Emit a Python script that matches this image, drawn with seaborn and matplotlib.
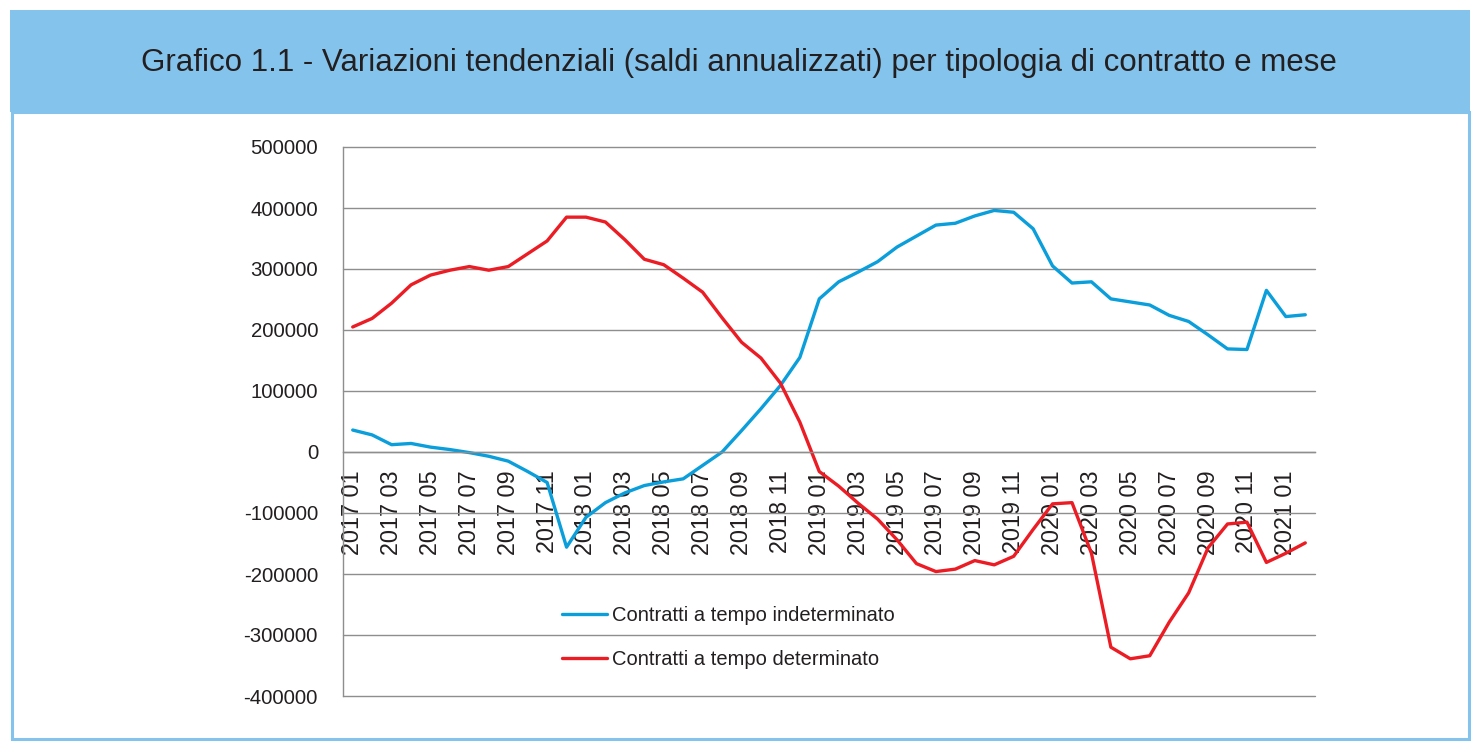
import numpy as np
import pandas as pd
import matplotlib
matplotlib.use("Agg")
import matplotlib.pyplot as plt
from matplotlib.patches import Rectangle
import seaborn as sns

# month labels 2017 01 .. 2021 02
months = [f"{y} {m:02d}" for y in range(2017, 2022) for m in range(1, 13)][:50]

indeterminato = [
    36000, 28000, 12000, 14000, 8000, 4000, -1000, -7000, -15000, -32000,
    -50000, -156000, -107000, -83000, -67000, -55000, -49000, -44000, -22000, 0,
    35000, 71000, 109000, 155000, 251000, 279000, 295000, 312000, 336000, 354000,
    372000, 375000, 387000, 396000, 393000, 366000, 305000, 277000, 279000, 251000,
    246000, 241000, 224000, 214000, 192000, 169000, 168000, 265000, 222000, 225000,
]
determinato = [
    205000, 219000, 244000, 274000, 290000, 298000, 304000, 298000, 304000, 325000,
    346000, 385000, 385000, 377000, 348000, 316000, 307000, 285000, 262000, 220000,
    180000, 154000, 113000, 49000, -32000, -56000, -84000, -110000, -144000, -183000,
    -196000, -192000, -178000, -185000, -171000, -127000, -85000, -83000, -166000, -320000,
    -339000, -334000, -279000, -231000, -157000, -118000, -115000, -181000, -166000, -149000,
]
series_names = ["Contratti a tempo indeterminato", "Contratti a tempo determinato"]
yticks = [500000, 400000, 300000, 200000, 100000, 0, -100000, -200000, -300000, -400000]
title = "Grafico 1.1 - Variazioni tendenziali (saldi annualizzati) per tipologia di contratto e mese"

BLUE = "#0A9EDB"
RED = "#EC1C24"
BANNER = "#84C4EC"
GRID = "#8E8E8E"
TEXT = "#231F20"

df = pd.DataFrame({
    "mese": months * 2,
    "serie": [series_names[0]] * len(months) + [series_names[1]] * len(months),
    "valore": indeterminato + determinato,
})

sns.set_style("white")
plt.rcParams["font.family"] = ["Liberation Sans", "DejaVu Sans"]

W, H = 1478, 756
fig = plt.figure(figsize=(W / 100, H / 100), dpi=100)

# banner + white panel frame
fig.patches.append(Rectangle((10 / W, 1 - 112 / H), 1460 / W, 102 / H,
                             transform=fig.transFigure, facecolor=BANNER,
                             edgecolor="none", zorder=0))
fig.patches.append(Rectangle((11.5 / W, 1 - 739 / H), 1457 / W, 627 / H,
                             transform=fig.transFigure, facecolor="none",
                             edgecolor=BANNER, linewidth=2.2, zorder=0))
fig.text(0.5, 1 - 63 / H, title, ha="center", va="center", fontsize=22.5, color=TEXT)

ax = fig.add_axes([343 / W, 1 - 696 / H, 972 / W, 549 / H])
sns.lineplot(data=df, x="mese", y="valore", hue="serie", hue_order=series_names,
             palette={series_names[0]: BLUE, series_names[1]: RED},
             linewidth=2.4, sort=False, ax=ax)

ax.set_xlim(-0.5, len(months) - 0.5)
ax.set_ylim(-400000, 500000)
ax.set_xlabel("")
ax.set_ylabel("")
ax.set_axisbelow(True)

ax.set_yticks(yticks)
ax.set_yticklabels([str(v) for v in yticks])
ax.yaxis.grid(True, color=GRID, linewidth=1.0)
ax.tick_params(axis="y", length=5, width=1.0, color=GRID, pad=13,
               labelsize=14.7, labelcolor=TEXT)

ax.set_xticks(np.arange(0, len(months), 2))
ax.set_xticklabels(months[::2])
ax.set_xticks(np.arange(-0.5, len(months), 1), minor=True)
ax.tick_params(axis="x", which="major", length=0, pad=13, labelsize=16.8,
               labelcolor=TEXT, labelrotation=90)
ax.tick_params(axis="x", which="minor", length=3.5, width=1.0, color=GRID, direction="out")

for s in ["top", "right"]:
    ax.spines[s].set_visible(False)
ax.spines["bottom"].set_position(("data", 0))
ax.spines["bottom"].set_color(GRID)
ax.spines["left"].set_color(GRID)
ax.spines["left"].set_linewidth(1.0)
ax.spines["bottom"].set_linewidth(1.0)

handles, labels = ax.get_legend_handles_labels()
ax.legend(handles, labels, loc="center left", bbox_to_anchor=(0.2253, 0.1066),
          frameon=False, fontsize=14.5, handlelength=2.25, handletextpad=0.25,
          labelspacing=1.25, borderpad=0, borderaxespad=0, labelcolor=TEXT)

fig.canvas.draw()
for gl in ax.get_ygridlines():
    gl.set_clip_on(False)

fig.savefig("out.png", dpi=100)
plt.close(fig)
